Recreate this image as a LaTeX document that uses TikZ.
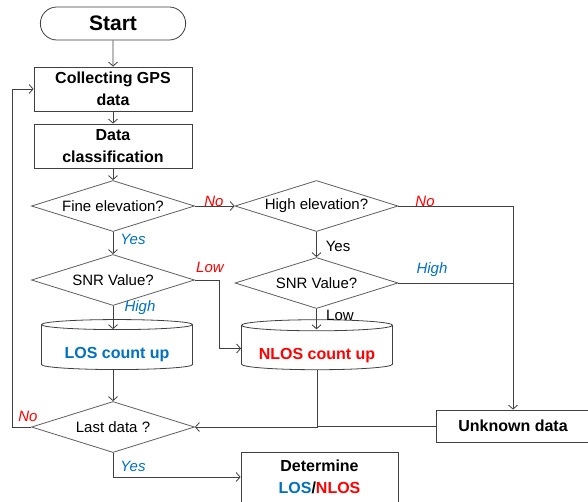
\documentclass[tikz,border=0pt]{standalone}
\usepackage{fontspec}
\setmainfont{Liberation Sans}
\usepackage{xcolor}
\usetikzlibrary{shapes.geometric,shapes.misc,arrows.meta,calc}
\definecolor{FCBlue}{HTML}{0070C0}
\definecolor{FCRed}{HTML}{FF0000}
\definecolor{FCLine}{HTML}{404040}
\definecolor{FCGrey}{HTML}{5F5F5F}

\begin{document}
\begin{tikzpicture}[x=1pt,y=-1pt,
  flow/.style={draw=FCLine,line width=.8pt,-{Straight Barb[length=4pt,width=9pt]}},
  link/.style={draw=FCLine,line width=.8pt},
  procbox/.style={draw=FCLine,line width=.8pt,rectangle,minimum width=158pt,minimum height=44pt,align=center,inner sep=2pt,font=\fontsize{16}{22}\selectfont\bfseries},
  decide/.style={draw=FCGrey,line width=.8pt,diamond,aspect=3.1,minimum width=163pt,minimum height=51pt,inner sep=0pt,font=\fontsize{15}{17}\selectfont},
  store/.style={draw=FCLine,line width=.8pt,cylinder,shape border rotate=90,aspect=.09,minimum width=151pt,minimum height=50pt,text height=24pt,text depth=3pt,font=\fontsize{16}{19}\selectfont\bfseries},
  termbox/.style={draw=FCLine,line width=.8pt,rounded rectangle,minimum width=152pt,minimum height=33pt,font=\fontsize{21}{24}\selectfont\bfseries},
  yeslabel/.style={font=\fontsize{15}{17}\selectfont\itshape,text=FCBlue,inner sep=0pt},
  nolabel/.style={font=\fontsize{15}{17}\selectfont\itshape,text=FCRed,inner sep=0pt},
  tagtext/.style={font=\fontsize{15}{17}\selectfont,inner sep=0pt}]
\path[use as bounding box] (0,0) rectangle (588,501);
\clip (0,0) rectangle (588,501);
\fill[white] (0,0) rectangle (588,501);
% blocks
\node[termbox] (start) at (113,23.5) {Start};
\node[procbox] (collect) at (113,89) {Collecting GPS\\data};
\node[procbox] (classify) at (113,146) {Data\\classification};
\node[decide] (fine) at (113,206) {Fine elevation?};
\node[decide] (high) at (316.5,206) {High elevation?};
\node[decide] (snrA) at (113,280) {SNR Value?};
\node[decide] (snrB) at (316.5,283) {SNR Value?};
\node[store,text=FCBlue] (los) at (117,348) {LOS count up};
\node[store,text=FCRed] (nlos) at (317,348.5) {NLOS count up};
\node[decide] (last) at (113,427) {Last data ?};
\node[procbox,minimum width=154pt,minimum height=32pt] (unknown) at (513,426) {Unknown data};
\node[procbox,minimum width=157pt,minimum height=50pt] (determine) at (319.5,477) {Determine\\\textcolor{FCBlue}{LOS}/\textcolor{FCRed}{NLOS}};
% labels
\node[nolabel] (noA) at (214,201) {No};
\node[yeslabel] (yesA) at (133,239) {Yes};
\node[nolabel] (lowA) at (210,267) {Low};
\node[yeslabel] (highA) at (140,308) {High};
\node[nolabel] (noB) at (425,201) {No};
\node[tagtext] (yesB) at (338,246) {Yes};
\node[yeslabel] (highB) at (432,270) {High};
\node[tagtext] (lowB) at (340,315) {Low};
\node[nolabel] (noC) at (28,416) {No};
\node[yeslabel] (yesC) at (133,466) {Yes};
% connectors
\draw[flow] (start) -- (collect);
\draw[flow] (collect) -- (classify);
\draw[flow] (classify) -- (fine);
\draw[flow] (fine) -- (high);
\draw[flow] (fine) -- (snrA);
\draw[flow] (snrA) -- ($(snrA.south |- los.north)+(0,10)$);
\draw[flow] (snrA.east) -- ++(24,0) |- (nlos.west);
\draw[flow] (high) -- (snrB);
\draw[flow] (snrB) -- ($(snrB.south |- nlos.north)+(0,10)$);
\draw[flow] (high.east) -- (high.east -| unknown.north) -- (unknown.north);
\draw[link] (snrB.east) -- (snrB.east -| unknown.north);
\draw[flow] (los.south -| last.north) -- (last.north);
\draw[flow] (nlos.south) |- (last.east);
\draw[link] (unknown.west) -- (unknown.west -| nlos.south);
\draw[flow] (last.west) -- ++(-19,0) |- (collect.west);
\draw[flow] (last.south) |- (determine.west);
\end{tikzpicture}
\end{document}
